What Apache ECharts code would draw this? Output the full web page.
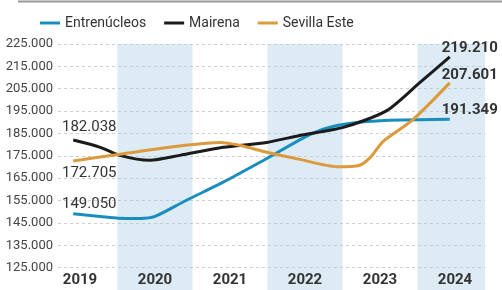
<!DOCTYPE html>
<html>
<head>
<meta charset="utf-8">
<script src="https://cdn.jsdelivr.net/npm/echarts@6/dist/echarts.min.js"></script>
<style>
  html, body { margin: 0; padding: 0; background: #fff; }
  #chart { width: 502px; height: 290px; }
</style>
</head>
<body>
<div id="chart"></div>
<script>
// años del eje y franjas sombreadas
const years = [2019, 2020, 2021, 2022, 2023, 2024];
const bandYears = [2020, 2022, 2024];
const yTicks = [125000, 135000, 145000, 155000, 165000, 175000, 185000, 195000, 205000, 215000, 225000];

// [año (fracción), habitantes]
const entrenucleos = [
  [2018.91, 149050], [2019.27, 147900], [2019.51, 147100], [2019.8, 147000], [2020.0, 147900],
  [2020.4, 154800], [2020.91, 163200], [2021.4, 172100], [2022.07, 184600], [2022.37, 188100],
  [2022.83, 190300], [2023.27, 191000], [2023.93, 191349]
];
const mairena = [
  [2018.91, 182038], [2019.27, 178800], [2019.53, 175200], [2019.93, 173000], [2020.33, 175200],
  [2020.91, 178800], [2021.49, 181000], [2021.93, 184100], [2022.51, 187700], [2023.09, 195200],
  [2023.53, 207700], [2023.93, 219210]
];
const sevillaEste = [
  [2018.91, 172705], [2019.53, 175700], [2020.4, 179700], [2020.87, 181000], [2021.13, 179700],
  [2021.49, 176600], [2021.93, 173400], [2022.43, 170100], [2022.73, 170800], [2022.87, 174300],
  [2023.04, 181400], [2023.44, 191200], [2023.93, 207601]
];

const fmt = v => String(v).replace(/\B(?=(\d{3})+(?!\d))/g, '.');

// solo el primer y el último punto llevan etiqueta
// pos: desplazamiento [dx, dy] desde el punto hasta el centro del texto
function withLabels(points, startPos, endPos) {
  return points.map((p, i) => {
    if (i === 0) {
      return { value: p, label: { show: true, position: startPos, align: 'center', verticalAlign: 'middle',
        formatter: fmt(p[1]), fontSize: 15, color: '#333' } };
    }
    if (i === points.length - 1) {
      return { value: p, label: { show: true, position: endPos, align: 'center', verticalAlign: 'middle',
        formatter: fmt(p[1]), fontSize: 15, fontWeight: 'bold', color: '#333' } };
    }
    return { value: p };
  });
}

const lineSeries = (name, color, points, startPos, endPos) => ({
  name,
  type: 'line',
  smooth: 0.25,
  showSymbol: true,
  symbol: 'circle',
  symbolSize: 0,
  lineStyle: { width: 3, color },
  itemStyle: { color },
  label: { show: false },
  labelLayout: { hideOverlap: false },
  data: withLabels(points, startPos, endPos)
});

const myChart = echarts.init(document.getElementById('chart'));
const option = {
  backgroundColor: '#fff',
  textStyle: { fontFamily: 'Roboto' },
  animation: false,
  graphic: [{
    type: 'line',
    shape: { x1: 18, y1: 1.5, x2: 502, y2: 1.5 },
    style: { stroke: '#9a9a9a', lineWidth: 2 }
  }],
  legend: {
    data: ['Entrenúcleos', 'Mairena', 'Sevilla Este'],
    left: 35,
    top: 11,
    icon: 'rect',
    itemWidth: 20,
    itemHeight: 3,
    itemGap: 18,
    textStyle: { fontSize: 14, color: '#333' }
  },
  grid: { left: 58, right: 17, top: 44, bottom: -1.5, containLabel: false },
  xAxis: {
    type: 'value',
    z: 10,
    min: 2019 - 22 / 75,
    max: 2019 + 405 / 75,
    axisLine: { show: false },
    axisTick: { show: false },
    splitLine: { show: false },
    axisLabel: {
      customValues: years,
      inside: true,
      margin: 2,
      fontSize: 15,
      fontWeight: 'bold',
      color: '#333',
      formatter: v => String(v)
    }
  },
  yAxis: {
    type: 'value',
    min: 115000,
    max: 225000,
    interval: 10000,
    axisLine: { show: false },
    axisTick: { show: false },
    axisLabel: {
      margin: 5,
      fontSize: 13,
      color: '#444',
      formatter: v => (yTicks.includes(v) ? fmt(v) : '')
    },
    splitLine: { lineStyle: { color: '#cfcfcf', type: [3, 3], width: 1 } }
  },
  series: [
    {
      name: 'franjas',
      type: 'line',
      data: [],
      silent: true,
      markArea: {
        silent: true,
        itemStyle: { color: 'rgba(168,205,228,0.4)' },
        data: bandYears.map(y => [{ xAxis: y - 0.5 }, { xAxis: y + 0.5 }])
      }
    },
    lineSeries('Entrenúcleos', '#1a8dbf', entrenucleos, [16, -10], [20, -9]),
    lineSeries('Mairena', '#1b1b1b', mairena, [16, -13], [20, -9]),
    lineSeries('Sevilla Este', '#dc9a3c', sevillaEste, [16, 12], [20, -8])
  ]
};
option && myChart.setOption(option);
</script>
</body>
</html>
